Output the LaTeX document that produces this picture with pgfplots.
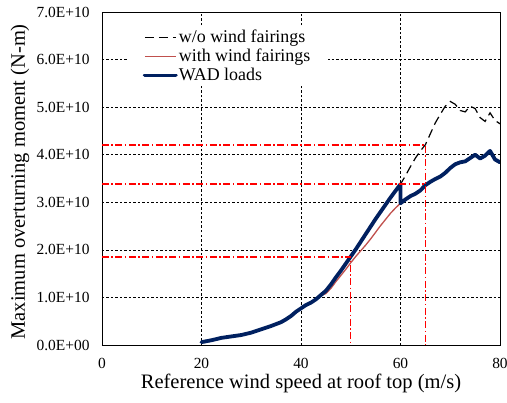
\documentclass[border=0pt]{standalone}
\usepackage{pgfplots}
\pgfplotsset{compat=1.18}
\usepackage{fontspec}
\setmainfont{Liberation Serif}
\definecolor{wadblue}{HTML}{002060}
\definecolor{fairred}{HTML}{C0504D}
\definecolor{refred}{HTML}{FF0000}
\begin{document}
\begin{tikzpicture}
\useasboundingbox (-102bp,-58bp) rectangle (405bp,345bp);
\begin{axis}[
  at={(0,0)}, anchor=origin,
  scale only axis, width=398bp, height=333bp,
  xmin=0, xmax=80, ymin=0, ymax=7,
  xtick={0,20,40,60,80}, ytick={0,1,2,3,4,5,6,7},
  yticklabels={0.0E+00,1.0E+10,2.0E+10,3.0E+10,4.0E+10,5.0E+10,6.0E+10,7.0E+10},
  tick style={draw=none},
  ticklabel style={font=\rmfamily\fontsize{15.5}{17}\selectfont},
  yticklabel style={xshift=-9bp},
  xticklabel style={yshift=-10bp},
  /pgf/number format/assume math mode=true,
  xlabel={Reference wind speed at roof top (m/s)},
  ylabel={Maximum overturning moment (N-m)},
  label style={font=\rmfamily\fontsize{20.6}{22}\selectfont},
  xlabel style={at={(axis description cs:0.5,-0.114)}, anchor=center},
  ylabel style={at={(axis description cs:-0.206,0.49)}, anchor=center},
  grid=major,
  major grid style={black, line width=0.6bp, dash pattern=on 2.5bp off 2bp},
  axis line style={black, line width=0.8bp},
  legend style={at={(0.062,0.955)}, anchor=north west, draw=none, fill=white,
    font=\rmfamily\fontsize{18}{19}\selectfont, row sep=0bp, inner xsep=16bp, inner ysep=1bp,
    nodes={text height=13bp, text depth=3.5bp, inner sep=1.2bp}},
  legend cell align=left,
  legend image code/.code={\draw[#1] (0bp,0bp) -- (31bp,0bp);},
]
\addplot[black, line width=1.2bp, dash pattern=on 9bp off 5bp] coordinates {
(20,0.06)(22,0.10)(24,0.15)(26,0.18)(28,0.21)(30,0.26)(32,0.33)(34,0.40)(36,0.48)(37,0.54)(38,0.61)(39,0.70)(40,0.77)(41,0.84)(42,0.89)(43,0.96)(44,1.05)(45,1.14)(46,1.27)(47,1.42)(48,1.56)(49,1.71)(50,1.86)(51,2.01)(52,2.17)(53,2.33)(54,2.49)(55,2.65)(56,2.80)(57,2.95)(58,3.10)(59,3.24)(60,3.38)
(61,3.56)(62,3.75)(63,3.93)(64,4.08)(65,4.21)(66,4.44)(67,4.67)(68,4.85)(69,5.02)(70,5.12)(71,5.06)(72,4.93)(73,4.90)(74,5.02)(75,4.97)(76,4.78)(77,4.70)(78,4.88)(79,4.72)(80,4.65)};
\addlegendentry{w/o wind fairings}
\addplot[fairred, line width=1.3bp] coordinates {
(20,0.06)(22,0.10)(24,0.15)(26,0.18)(28,0.21)(30,0.26)(32,0.33)(34,0.40)(36,0.48)(37,0.54)(38,0.61)(39,0.70)(40,0.77)(41,0.84)(42,0.89)(43,0.96)(44,1.04)(45,1.08)(46,1.19)(47,1.33)(48,1.46)(49,1.59)(50,1.73)(51,1.86)(52,1.98)(53,2.10)(54,2.23)(55,2.37)(56,2.51)(57,2.64)(58,2.77)(59,2.88)(60,2.98)
(61,3.06)(62,3.13)(63,3.18)(64,3.25)(65,3.36)(66,3.43)(67,3.49)(68,3.54)(69,3.62)(70,3.72)(71,3.80)(72,3.84)(73,3.86)(74,3.93)(75,4.00)(76,3.92)(77,3.98)(78,4.08)(79,3.90)(80,3.84)};
\addlegendentry{with wind fairings}
\addplot[wadblue, line width=3.8bp, line join=round, line cap=round] coordinates {
(20,0.06)(22,0.10)(24,0.15)(26,0.18)(28,0.21)(30,0.26)(32,0.33)(34,0.40)(36,0.48)(37,0.54)(38,0.61)(39,0.70)(40,0.77)(41,0.84)(42,0.89)(43,0.96)(44,1.05)(45,1.14)(46,1.27)(47,1.42)(48,1.56)(49,1.71)(50,1.86)(51,2.01)(52,2.17)(53,2.33)(54,2.49)(55,2.65)(56,2.80)(57,2.95)(58,3.10)(59,3.24)(60,3.38)(60,2.98)
(61,3.06)(62,3.13)(63,3.18)(64,3.25)(65,3.36)(66,3.43)(67,3.49)(68,3.54)(69,3.62)(70,3.72)(71,3.80)(72,3.84)(73,3.86)(74,3.93)(75,4.00)(76,3.92)(77,3.98)(78,4.08)(79,3.90)(80,3.84)};
\addlegendentry{WAD loads}
\addplot[draw=refred, line width=1.5bp, dash pattern=on 7bp off 2.5bp on 1.5bp off 2.5bp, forget plot] coordinates {(0,3.38)(65,3.38)};
\addplot[draw=refred, line width=1.5bp, dash pattern=on 7bp off 2.5bp on 1.5bp off 2.5bp, forget plot] coordinates {(0,4.2)(65,4.2)(65,0)};
\addplot[draw=refred, line width=1.5bp, dash pattern=on 7bp off 2.5bp on 1.5bp off 2.5bp, forget plot] coordinates {(0,1.85)(50,1.85)(50,0)};
\end{axis}
\end{tikzpicture}
\end{document}
